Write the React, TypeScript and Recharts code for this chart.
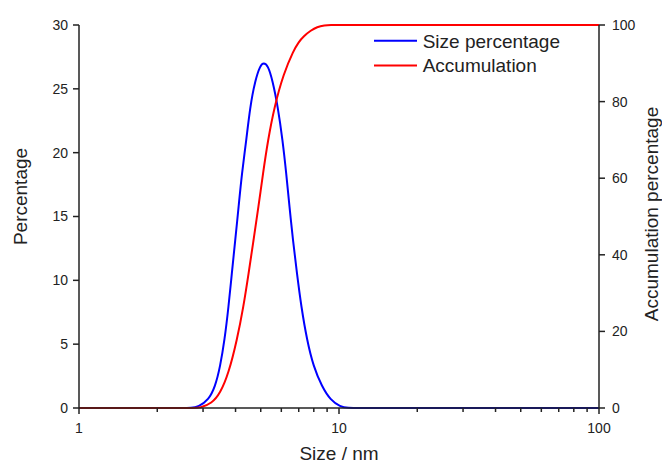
import { LineChart, Line, XAxis, YAxis, Legend, Label } from 'recharts';

// ── Data ──────────────────────────────────────────────────────

// size distribution (left axis, %)
const sizeNm = [1, 2, 2.5, 2.7, 2.88, 3.15, 3.34, 3.49, 3.63, 3.76, 3.87, 3.99, 4.11, 4.23, 4.4, 4.55, 4.76, 4.98, 5.13, 5.33, 5.55, 5.82, 6.07, 6.27, 6.45, 6.65, 6.89, 7.16, 7.53, 7.98, 8.6, 9.26, 10.12, 10.8, 12, 15, 100];
const sizePct = [0, 0, 0, 0, 0.1, 0.63, 1.67, 3.23, 5.32, 7.93, 10.54, 13.15, 15.75, 18.36, 20.97, 23.58, 25.67, 26.84, 27.05, 26.84, 25.67, 23.58, 20.97, 18.36, 15.75, 13.15, 10.54, 7.93, 5.32, 3.23, 1.67, 0.63, 0.1, 0, 0, 0, 0];

// accumulation (right axis, %)
const accNm = [1, 2, 2.5, 2.75, 2.92, 3.24, 3.49, 3.76, 4.05, 4.29, 4.49, 4.69, 4.9, 5.1, 5.33, 5.64, 6.12, 6.69, 6.99, 7.31, 7.8, 8.23, 8.8, 9.3, 10, 12, 20, 100];
const accPct = [0, 0, 0, 0, 0, 1.2, 3.8, 9.0, 17.7, 26.4, 35.1, 43.8, 52.5, 61.2, 69.9, 78.6, 87.3, 93.4, 95.5, 97.1, 98.6, 99.5, 99.9, 100, 100, 100, 100, 100];

const seriesNames = ['Size percentage', 'Accumulation'];

const xTicks = [1, 2, 3, 4, 5, 6, 7, 8, 9, 10, 20, 30, 40, 50, 60, 70, 80, 90, 100];
const xMajor = [1, 10, 100];
const leftTicks = [0, 5, 10, 15, 20, 25, 30];
const rightTicks = [0, 20, 40, 60, 80, 100];

const sizeData = sizeNm.map((x, i) => ({ x, y: sizePct[i] }));
const accData = accNm.map((x, i) => ({ x, y: accPct[i] }));

// ── Styles ────────────────────────────────────────────────────

const FONT = '"Liberation Sans", Arial, sans-serif';
const INK = '#222';

const XTick = (props: any) => {
    const { x, y, payload } = props;
    const major = xMajor.includes(payload.value);
    return (
        <g>
            <line x1={x} x2={x} y1={y} y2={y + (major ? 6 : 4)} stroke={INK} strokeWidth={1.5} />
            {major && (
                <text x={x} y={y + 25} textAnchor="middle" fontSize={14} fill={INK} fontFamily={FONT}>
                    {payload.value}
                </text>
            )}
        </g>
    );
};

const renderLegend = (props: any) => {
    const items = [...(props.payload || [])].sort(
        (a: any, b: any) => seriesNames.indexOf(a.value) - seriesNames.indexOf(b.value)
    );
    return (
        <svg width={662} height={100}>
            {items.map((it: any, i: number) => (
                <g key={i}>
                    <line x1={374} x2={417} y1={40.7 + i * 24.7} y2={40.7 + i * 24.7} stroke={it.color} strokeWidth={2} />
                    <text x={422.7} y={47.7 + i * 24.7} fontSize={19} fill={INK} fontFamily={FONT}>
                        {it.value}
                    </text>
                </g>
            ))}
        </svg>
    );
};

export default function App() {
    return (
        <div style={{ position: 'absolute', left: 0, top: 0, width: 662, height: 463, background: '#fff', fontFamily: FONT }}>
            <LineChart width={662} height={463} margin={{ top: 25, right: 23, bottom: 15, left: 39 }}>
                <XAxis
                    dataKey="x"
                    type="number"
                    scale="log"
                    domain={[1, 100]}
                    ticks={xTicks}
                    interval={0}
                    allowDataOverflow
                    height={40}
                    tickSize={0}
                    tickMargin={0}
                    tickLine={false}
                    tick={<XTick />}
                    axisLine={{ stroke: INK, strokeWidth: 1.5 }}
                >
                    <Label
                        content={(p: any) => {
                            const vb = p.viewBox;
                            return (
                                <text x={vb.x + vb.width / 2} y={vb.y + 52} textAnchor="middle" fontSize={19} fill={INK} fontFamily={FONT}>
                                    Size / nm
                                </text>
                            );
                        }}
                    />
                </XAxis>
                <XAxis
                    xAxisId="top"
                    orientation="top"
                    type="number"
                    scale="log"
                    domain={[1, 100]}
                    height={0}
                    tick={false}
                    tickLine={false}
                    axisLine={{ stroke: INK, strokeWidth: 1.5 }}
                />
                <YAxis
                    yAxisId="left"
                    type="number"
                    domain={[0, 30]}
                    ticks={leftTicks}
                    interval={0}
                    width={40}
                    tickSize={6}
                    tickMargin={5}
                    tick={{ fontSize: 14, fill: INK, fontFamily: FONT }}
                    tickLine={{ stroke: INK, strokeWidth: 1.5 }}
                    axisLine={{ stroke: INK, strokeWidth: 1.5 }}
                >
                    <Label
                        content={(p: any) => {
                            const vb = p.viewBox;
                            const bx = vb.x - 11.7;
                            const cy = vb.y + vb.height / 2 - 20;
                            return (
                                <text x={bx} y={cy} transform={`rotate(-90 ${bx} ${cy})`} textAnchor="middle" fontSize={19} fill={INK} fontFamily={FONT}>
                                    Percentage
                                </text>
                            );
                        }}
                    />
                </YAxis>
                <YAxis
                    yAxisId="right"
                    orientation="right"
                    type="number"
                    domain={[0, 100]}
                    ticks={rightTicks}
                    interval={0}
                    width={40}
                    tickSize={6}
                    tickMargin={7}
                    tick={{ fontSize: 14, fill: INK, fontFamily: FONT }}
                    tickLine={{ stroke: INK, strokeWidth: 1.5 }}
                    axisLine={{ stroke: INK, strokeWidth: 1.5 }}
                >
                    <Label
                        content={(p: any) => {
                            const vb = p.viewBox;
                            const bx = vb.x + vb.width + 18.7;
                            const cy = vb.y + vb.height / 2 - 2.5;
                            return (
                                <text x={bx} y={cy} transform={`rotate(-90 ${bx} ${cy})`} textAnchor="middle" fontSize={19} fill={INK} fontFamily={FONT}>
                                    Accumulation percentage
                                </text>
                            );
                        }}
                    />
                </YAxis>
                <Legend
                    layout="vertical"
                    align="center"
                    verticalAlign="middle"
                    content={renderLegend}
                    wrapperStyle={{ left: 0, top: 0, width: 662, height: 100 }}
                />
                <Line
                    yAxisId="left"
                    data={sizeData}
                    dataKey="y"
                    name={seriesNames[0]}
                    type="basis"
                    stroke="#0000ff"
                    strokeWidth={2}
                    dot={false}
                    activeDot={false}
                    isAnimationActive={false}
                />
                <Line
                    yAxisId="right"
                    data={accData}
                    dataKey="y"
                    name={seriesNames[1]}
                    type="basis"
                    stroke="#ff0000"
                    strokeWidth={2}
                    dot={false}
                    activeDot={false}
                    isAnimationActive={false}
                />
            </LineChart>
        </div>
    );
}
